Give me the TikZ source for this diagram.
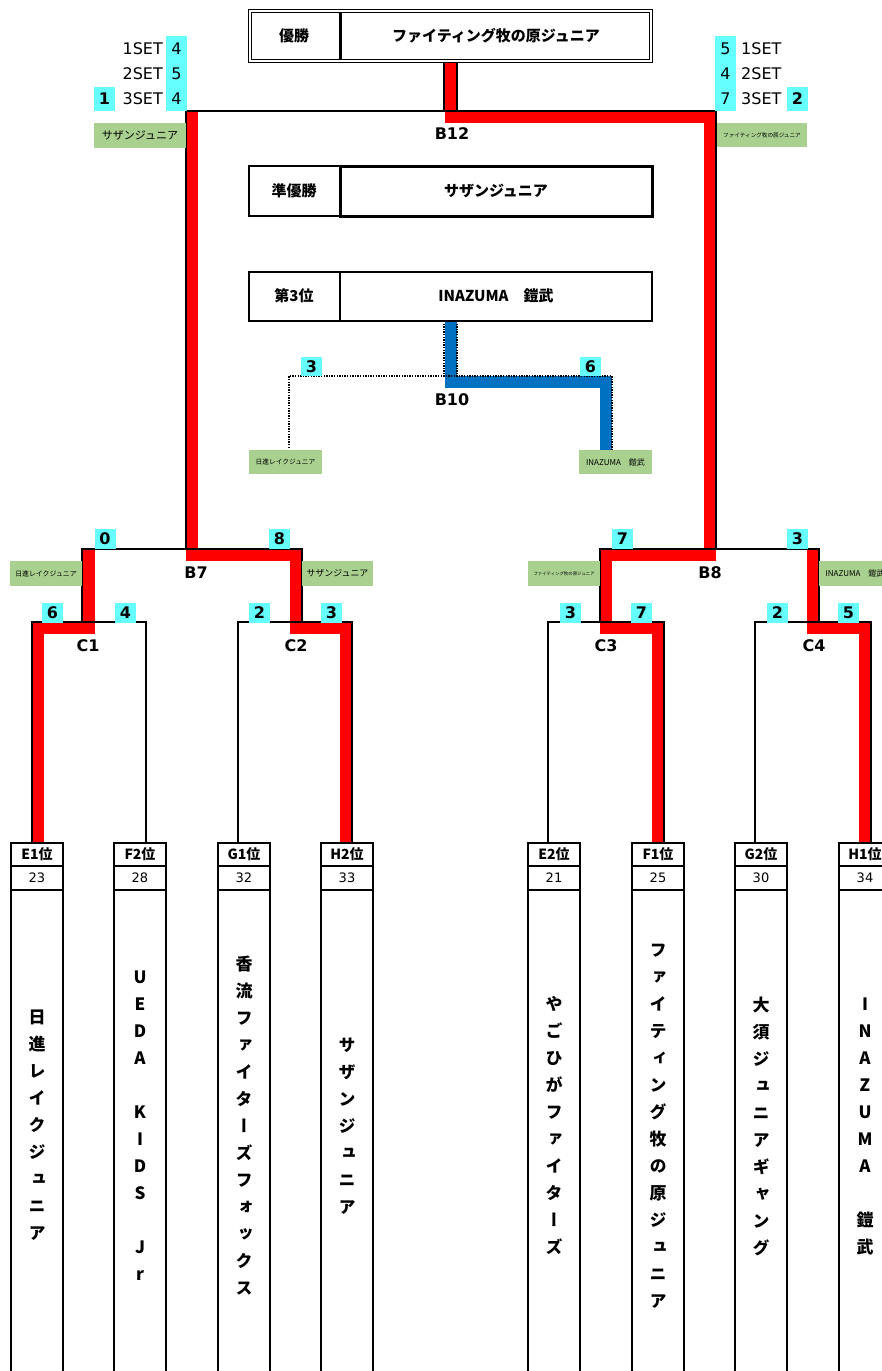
\documentclass[tikz,border=0pt]{standalone}
\usepackage{fontspec}
\setmainfont{DejaVu Sans}
\newfontfamily\jp{Noto Sans CJK JP}
\newfontfamily\jpv[RawFeature=+vert]{Noto Sans CJK JP}
\definecolor{aqua}{HTML}{66FFFF}
\definecolor{leaf}{HTML}{A9D08E}
\definecolor{blue3}{HTML}{0070C0}
\tikzset{
  bline/.style={line width=2pt},
  win/.style={draw=red, line width=12.5pt, line join=miter},
  third/.style={draw=blue3, line width=12.5pt, line join=miter},
  dots/.style={line width=1.5pt, dash pattern=on 1.4pt off 1.2pt},
  score/.style={fill=aqua, inner sep=0pt, minimum width=21pt, minimum height=20pt, font=\bfseries\fontsize{16}{16}\selectfont},
  setno/.style={fill=aqua, inner sep=0pt, minimum width=21pt, minimum height=25pt, font=\fontsize{16}{16}\selectfont},
  setlbl/.style={inner sep=0pt, font=\fontsize{16}{16}\selectfont},
  club/.style={fill=leaf, inner sep=0pt, minimum width=72pt, minimum height=24pt},
  matchlbl/.style={inner sep=0pt, font=\bfseries\fontsize{16}{16}\selectfont},
  title/.style={inner sep=0pt, font=\jp\bfseries\fontsize{15}{15}\selectfont},
  seedbox/.style={draw, line width=2pt, inner sep=0pt, minimum width=52pt, minimum height=23.5pt, font=\jp\bfseries\fontsize{14}{14}\selectfont},
  rankbox/.style={draw, line width=2pt, inner sep=0pt, minimum width=52pt, minimum height=24pt, font=\fontsize{13}{13}\selectfont},
  teamname/.style={inner sep=0pt, align=center, font=\jpv\bfseries\fontsize{17}{27}\selectfont}
}
\begin{document}
\begin{tikzpicture}[x=1pt, y=-1pt]
  \useasboundingbox (0,0) rectangle (881,1371);

  % winners path
  \draw[win] (451,63) -- (451,117) -- (710,117) -- (710,555) -- (606,555) -- (606,628) -- (658,628) -- (658,843);
  \draw[win] (346,843) -- (346,628) -- (296,628) -- (296,555) -- (192,555) -- (192,111);
  \draw[win] (38,843) -- (38,628) -- (88.5,628) -- (88.5,549);
  \draw[win] (865,843) -- (865,628) -- (813,628) -- (813,549);
  \draw[third] (451,321) -- (451,382) -- (606,382) -- (606,450);

  % B12
  \draw[bline] (186,549) -- (186,111) -- (716,111) -- (716,549);
  \draw[bline] (444,63) to (444,111);
  \draw[bline] (457,63) to (457,111);
  % B10
  \draw[dots] (289,448) -- (289,376) -- (612,376) -- (612,450);
  \draw[dots] (444,321) to (444,376);
  \draw[dots] (457,321) to (457,376);
  % B7, B8
  \draw[bline] (82,622) -- (82,549) -- (302,549) -- (302,622);
  \draw[bline] (600,622) -- (600,549) -- (819,549) -- (819,622);
  % C1 - C4
  \draw[bline] (32,843) -- (32,622) -- (146,622) -- (146,843);
  \draw[bline] (238,843) -- (238,622) -- (352,622) -- (352,843);
  \draw[bline] (548,843) -- (548,622) -- (664,622) -- (664,843);
  \draw[bline] (755,843) -- (755,622) -- (871,622) -- (871,843);

  % results
  \draw[double, double distance=1.5pt, line width=1.2pt] (250,11) rectangle (651,61);
  \draw[line width=3pt] (340,12) to (340,60);
  \node[title] (gold) at (294,36){優勝};
  \node[title] (goldteam) at (496,36){ファイティング牧の原ジュニア};
  \draw[bline] (249,166) rectangle (340,216);
  \draw[line width=3pt] (340,166) rectangle (652,216);
  \node[title] (silver) at (294,191){準優勝};
  \node[title] (silverteam) at (496,191){サザンジュニア};
  \draw[line width=1.2pt] (249,272) rectangle (340,321);
  \draw[line width=2.5pt] (340,272) rectangle (652,321);
  \node[title] (bronze) at (294,296){第3位};
  \node[title] (bronzeteam) at (496,296){INAZUMA　鎧武};

  % final sets
  \node[setno] (l1) at (176.5,48.5){4};
  \node[setno] (l2) at (176.5,73.5){5};
  \node[setno] (l3) at (176.5,98.5){4};
  \node[setlbl, anchor=east] (l1s) at (163,48.5){1SET};
  \node[setlbl, anchor=east] (l2s) at (163,73.5){2SET};
  \node[setlbl, anchor=east] (l3s) at (163,98.5){3SET};
  \node[score, minimum height=24pt] (lset) at (104.5,99){1};
  \node[setno] (r1) at (725.5,48.5){5};
  \node[setno] (r2) at (725.5,73.5){4};
  \node[setno] (r3) at (725.5,98.5){7};
  \node[setlbl, anchor=west] (r1s) at (741,48.5){1SET};
  \node[setlbl, anchor=west] (r2s) at (741,73.5){2SET};
  \node[setlbl, anchor=west] (r3s) at (741,98.5){3SET};
  \node[score, minimum height=24pt] (rset) at (797.5,99){2};

  \node[club, minimum width=92pt, minimum height=25pt, font=\jp\fontsize{11}{11}\selectfont] (finL) at (140,135.5){サザンジュニア};
  \node[club, minimum width=90pt, font=\jp\fontsize{5.6}{6}\selectfont] (finR) at (762,135){ファイティング牧の原ジュニア};
  \node[club, minimum width=73pt, font=\jp\fontsize{6.7}{7}\selectfont] (thrL) at (285.5,462){日進レイクジュニア};
  \node[club, minimum width=73pt, font=\jp\fontsize{8}{8}\selectfont] (thrR) at (615.5,462){INAZUMA　鎧武};
  \node[club, minimum height=25pt, font=\jp\fontsize{6.9}{7}\selectfont] (b7L) at (46,573.5){日進レイクジュニア};
  \node[club, minimum width=71pt, minimum height=25pt, font=\jp\fontsize{8.9}{9}\selectfont] (b7R) at (337.5,573.5){サザンジュニア};
  \node[club, minimum height=25pt, font=\jp\fontsize{4.4}{5}\selectfont] (b8L) at (564,573.5){ファイティング牧の原ジュニア};
  \node[club, minimum height=25pt, font=\jp\fontsize{8}{8}\selectfont] (b8R) at (855,573.5){INAZUMA　鎧武};

  % match names
  \node[matchlbl] (b12) at (452,134){B12};
  \node[matchlbl] (b10) at (452,400){B10};
  \node[matchlbl] (b7) at (196,573){B7};
  \node[matchlbl] (b8) at (710,573){B8};
  \node[matchlbl] (c1) at (88,646){C1};
  \node[matchlbl] (c2) at (296,646){C2};
  \node[matchlbl] (c3) at (606,646){C3};
  \node[matchlbl] (c4) at (814,646){C4};

  % scores
  \node[score, minimum height=19pt] (s10a) at (311.5,366.5){3};
  \node[score, minimum height=19pt] (s10b) at (590.5,366.5){6};
  \node[score] (s7a) at (105,539){0};
  \node[score] (s7b) at (279.5,539){8};
  \node[score] (s8a) at (622.5,539){7};
  \node[score] (s8b) at (797.5,539){3};
  \node[score] (s1a) at (52.5,612.5){6};
  \node[score] (s1b) at (125.5,612.5){4};
  \node[score] (s2a) at (259.5,612.5){2};
  \node[score] (s2b) at (331.5,612.5){3};
  \node[score] (s3a) at (570.5,612.5){3};
  \node[score] (s3b) at (641.5,612.5){7};
  \node[score] (s4a) at (777.5,612.5){2};
  \node[score] (s4b) at (848.5,612.5){5};

  % teams
  \node[seedbox] (e1) at (37,854.5){E1位};
  \node[rankbox] (e1n) at (37,878){23};
  \draw[bline] (11,890) rectangle (63,1380);
  \node[teamname] (e1t) at (37,1125){日\\進\\レ\\イ\\ク\\ジ\\ュ\\ニ\\ア};

  \node[seedbox] (f2) at (140,854.5){F2位};
  \node[rankbox] (f2n) at (140,878){28};
  \draw[bline] (114,890) rectangle (166,1380);
  \node[teamname] (f2t) at (140,1126){U\\E\\D\\A\\\mbox{}\\K\\I\\D\\S\\\mbox{}\\J\\r};

  \node[seedbox] (g1) at (244,854.5){G1位};
  \node[rankbox] (g1n) at (244,878){32};
  \draw[bline] (218,890) rectangle (270,1380);
  \node[teamname] (g1t) at (244,1126){香\\流\\フ\\ァ\\イ\\タ\\ー\\ズ\\フ\\ォ\\ッ\\ク\\ス};

  \node[seedbox] (h2) at (347,854.5){H2位};
  \node[rankbox] (h2n) at (347,878){33};
  \draw[bline] (321,890) rectangle (373,1380);
  \node[teamname] (h2t) at (347,1126){サ\\ザ\\ン\\ジ\\ュ\\ニ\\ア};

  \node[seedbox] (e2) at (554,854.5){E2位};
  \node[rankbox] (e2n) at (554,878){21};
  \draw[bline] (528,890) rectangle (580,1380);
  \node[teamname] (e2t) at (554,1125){や\\ご\\ひ\\が\\フ\\ァ\\イ\\タ\\ー\\ズ};

  \node[seedbox] (f1) at (658,854.5){F1位};
  \node[rankbox] (f1n) at (658,878){25};
  \draw[bline] (632,890) rectangle (684,1380);
  \node[teamname] (f1t) at (658,1126){フ\\ァ\\イ\\テ\\ィ\\ン\\グ\\牧\\の\\原\\ジ\\ュ\\ニ\\ア};

  \node[seedbox] (g2) at (761,854.5){G2位};
  \node[rankbox] (g2n) at (761,878){30};
  \draw[bline] (735,890) rectangle (787,1380);
  \node[teamname] (g2t) at (761,1126){大\\須\\ジ\\ュ\\ニ\\ア\\ギ\\ャ\\ン\\グ};

  \node[seedbox] (h1) at (865,854.5){H1位};
  \node[rankbox] (h1n) at (865,878){34};
  \draw[bline] (839,890) rectangle (891,1380);
  \node[teamname] (h1t) at (865,1126){I\\N\\A\\Z\\U\\M\\A\\\mbox{}\\鎧\\武};
\end{tikzpicture}
\end{document}
